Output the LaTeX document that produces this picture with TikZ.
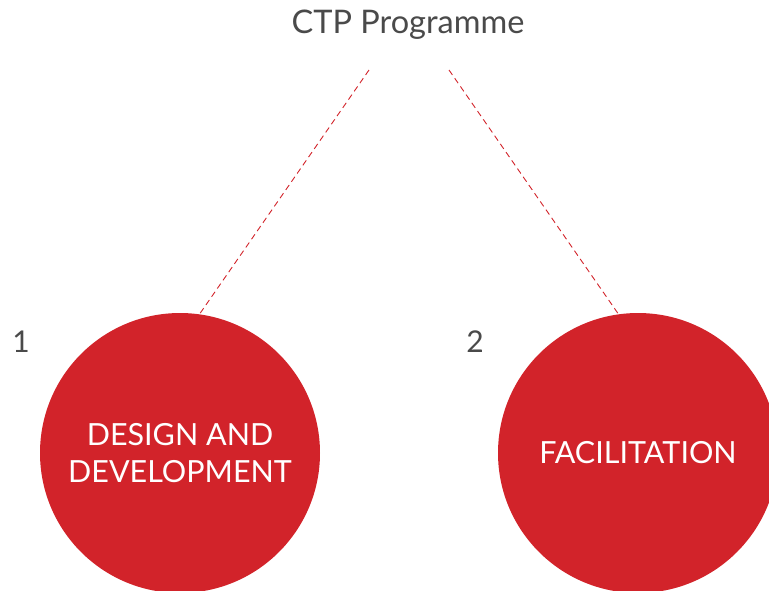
\documentclass[tikz,border=0pt]{standalone}
\usepackage{fontspec}
\setmainfont{Lato}
\definecolor{ctpred}{HTML}{D2232A}
\definecolor{ctpgray}{HTML}{4A4A4A}
\begin{document}
\begin{tikzpicture}[x=1pt, y=-1pt,
    phase/.style={circle, fill=ctpred, minimum size=280pt, inner sep=0pt, text=white, font=\fontsize{30.5}{37}\selectfont, align=center},
    num/.style={text=ctpgray, font=\fontsize{30}{36}\selectfont},
    link/.style={ctpred, line width=0.9pt, dash pattern=on 6pt off 4pt}]
    \useasboundingbox (0,0) rectangle (769,590);
    \node[text=ctpgray, font=\fontsize{32.5}{38}\selectfont] (title) at (408, 25) {CTP Programme};
    \coordinate (tl) at (369, 70);
    \coordinate (tr) at (449, 70);

    \node[phase] (design) at (180, 453) {DESIGN AND\\DEVELOPMENT}; % 1
    \node[phase] (facil) at (638, 453) {FACILITATION}; % 2
    \node[num] (n1) at (21, 342) {1};
    \node[num] (n2) at (475, 342) {2};

    \draw[link] (tl) -- (design.82);
    \draw[link] (tr) -- (facil.98);
\end{tikzpicture}
\end{document}
